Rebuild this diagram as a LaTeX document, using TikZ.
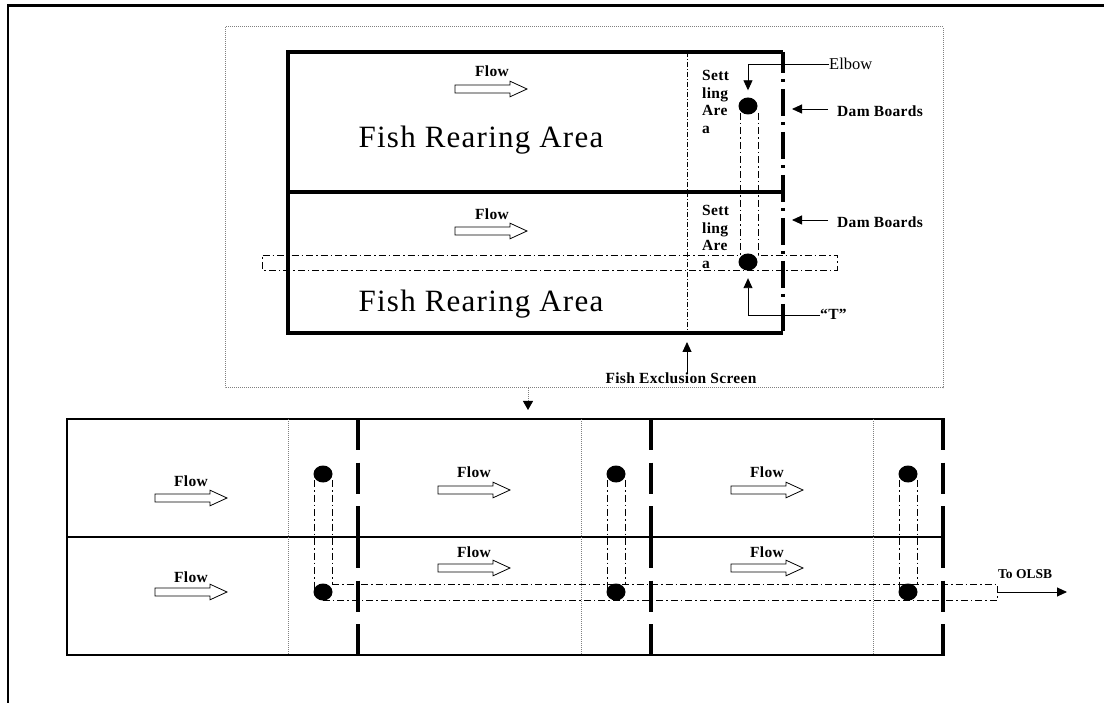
\documentclass[tikz,border=0pt]{standalone}
\usepackage{fontspec}
\setmainfont{Liberation Serif}
\usetikzlibrary{shapes.geometric,arrows.meta}
\tikzset{
  frame/.style={line width=2.2pt},
  thickwall/.style={line width=4pt},
  thinwall/.style={line width=1.1pt},
  damtop/.style={line width=3.6pt, dash pattern=on 27pt off 6pt on 3pt off 7pt, dash phase=6pt},
  damlow/.style={line width=4pt, dash pattern=on 31pt off 12.5pt},
  screen/.style={line width=0.8pt, dash pattern=on 5pt off 2pt on 1pt off 2pt},
  graydot/.style={line width=1pt, gray, dash pattern=on 1pt off 1pt},
  pipe/.style={line width=0.9pt, dash pattern=on 7pt off 3pt on 1.5pt off 3pt},
  dot/.style={ellipse, fill=black, minimum width=19pt, minimum height=17pt, inner sep=0pt},
  lbl/.style={font=\fontsize{15.5}{17.7}\selectfont\bfseries\addfontfeature{LetterSpace=2}, inner sep=0pt},
  smalllbl/.style={font=\fontsize{13.5}{15}\selectfont\bfseries, inner sep=0pt},
  reglbl/.style={font=\fontsize{16.5}{18}\selectfont, inner sep=0pt},
  big/.style={font=\fontsize{31}{34}\selectfont\addfontfeature{LetterSpace=4}, inner sep=0pt},
  ptr/.style={line width=0.9pt, -{Triangle[length=10pt,width=9pt]}},
  flowarr/.pic={\draw[line width=0.8pt, fill=white] (0,-4) -- (55,-4) -- (55,-7.8) -- (72,0) -- (55,7.8) -- (55,4) -- (0,4) -- cycle;},
}
\begin{document}
\begin{tikzpicture}[x=1pt,y=-1pt]
\useasboundingbox (0,0) rectangle (1104,703);
% outer frame
\draw[frame] (1104,5.5) -- (8,5.5) -- (8,703);
% dotted enclosure
\draw[graydot] (225,27) rectangle (943,388);
% upper rearing tanks
\draw[thickwall] (783,52) -- (288,52) -- (288,333) -- (783,333);
\draw[thickwall] (288,192) -- (783,192);
\draw[damtop] (783,52) -- (783,333);
\draw[screen] (687,52) -- (687,333);
% flow arrows upper
\pic at (455,89) {flowarr};
\pic at (455,231) {flowarr};
\node[lbl, anchor=base] (flowU1) at (492,77) {Flow};
\node[lbl, anchor=base] (flowU2) at (492,220) {Flow};
\node[big, anchor=base] (fra1) at (481,148) {Fish Rearing Area};
\node[big, anchor=base] (fra2) at (481,312) {Fish Rearing Area};
\node[lbl, anchor=north west, align=left] (set1) at (702,70) {Sett\\ling\\Are\\a};
\node[lbl, anchor=north west, align=left] (set2) at (702,205) {Sett\\ling\\Are\\a};
% pipes upper
\draw[pipe] (740,113) -- (740,262);
\draw[pipe] (758,113) -- (758,255) -- (837,255) -- (837,270) -- (262,270) -- (262,255) -- (740,255);
\node[dot] (dotA) at (748,106) {};
\node[dot] (dotB) at (748,262) {};
% labels upper
\node[reglbl, anchor=base west] (elbow) at (829,70) {Elbow};
\draw[ptr, shorten >=7pt] (elbow.west) -| (dotA.north);
\node[lbl, anchor=base west] (dam1) at (837,117) {Dam Boards};
\node[lbl, anchor=base west] (dam2) at (837,228) {Dam Boards};
\coordinate (dam1tip) at (792,109);
\coordinate (dam2tip) at (792,220);
\draw[ptr] ([xshift=-9pt]dam1.west |- dam1tip) -- (dam1tip);
\draw[ptr] ([xshift=-9pt]dam2.west |- dam2tip) -- (dam2tip);
\node[lbl, anchor=base west] (tlbl) at (820,320) {“T”};
\draw[ptr, shorten >=7.5pt] ([yshift=-1pt]tlbl.west) -| (dotB.south);
\node[lbl, anchor=base] (fes) at (681,384) {Fish Exclusion Screen};
\coordinate (festip) at (687,342);
\draw[ptr] (festip |- fes.north) -- (festip);
% link arrow
\coordinate (linktop) at (528,388);
\coordinate (linktip) at (528,410);
\draw[line width=0.8pt, gray, dash pattern=on 1pt off 1pt, -{Triangle[black,length=9pt,width=10pt]}] (linktop) -- (linktip);
% lower layout
\draw[thinwall] (945,419) -- (67,419) -- (67,655) -- (945,655);
\draw[thinwall] (67,537) -- (945,537);
\foreach \x in {288,581,873} \draw[graydot] (\x,419) -- (\x,655);
\foreach \x in {358,651,943} {
  \draw[damlow] (\x,419) -- (\x,537);
  \draw[damlow] (\x,537) -- (\x,655);
}
% flow arrows lower
\pic at (155,498) {flowarr};
\pic at (155,592) {flowarr};
\pic at (438,490) {flowarr};
\pic at (438,568) {flowarr};
\pic at (731,490) {flowarr};
\pic at (731,568) {flowarr};
\node[lbl, anchor=base] (fl1) at (191,486) {Flow};
\node[lbl, anchor=base] (fl2) at (191,582) {Flow};
\node[lbl, anchor=base] (fl3) at (474,478) {Flow};
\node[lbl, anchor=base] (fl4) at (474,557) {Flow};
\node[lbl, anchor=base] (fl5) at (767,478) {Flow};
\node[lbl, anchor=base] (fl6) at (767,557) {Flow};
% pipes lower
\foreach \x in {323,616,908} {
  \draw[pipe] (\x-9,480) -- (\x-9,592);
  \draw[pipe] (\x+9,480) -- (\x+9,584);
}
\draw[pipe] (332,584) -- (997,584) -- (997,600) -- (323,600);
\node[dot] (d1a) at (323,474) {};
\node[dot] (d1b) at (323,592) {};
\node[dot] (d2a) at (616,474) {};
\node[dot] (d2b) at (616,592) {};
\node[dot] (d3a) at (908,474) {};
\node[dot] (d3b) at (908,592) {};
\node[smalllbl, anchor=base west] (olsb) at (998,578) {To OLSB};
\coordinate (pipeend) at (997,592);
\coordinate (olsbtip) at (1067,592);
\draw[ptr] (pipeend) -- (olsbtip);
\end{tikzpicture}
\end{document}
